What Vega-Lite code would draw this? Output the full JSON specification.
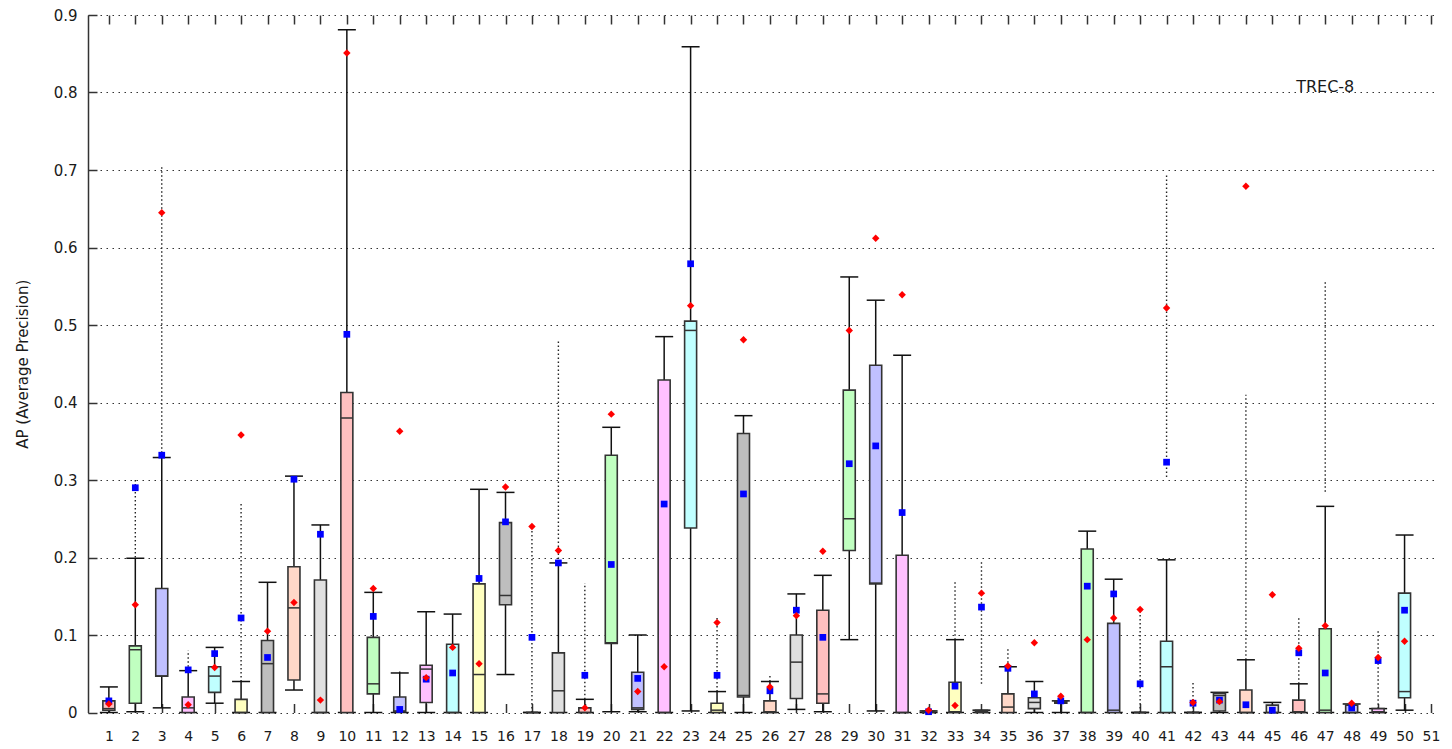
{
  "$schema": "https://vega.github.io/schema/vega-lite/v6.json",
  "width": 1348,
  "height": 697.5,
  "autosize": {"type": "none"},
  "padding": {"left": 88, "top": 15, "right": 16, "bottom": 36.5},
  "background": "white",
  "config": {
    "view": {"stroke": null},
    "font": "DejaVu Sans",
    "axis": {"labelFont": "DejaVu Sans", "labelFontSize": 14, "labelColor": "#1a1a1a", "titleFont": "DejaVu Sans", "titleFontSize": 15, "titleFontWeight": "normal", "titleColor": "#1a1a1a"}
  },
  "datasets": {
    "boxes": [
      {"id": 1, "g": "A", "q1": 0.003, "med": 0.005, "q3": 0.015, "lo": 0, "hi": 0.033, "red": 0.011, "blue": 0.015},
      {"id": 2, "g": "B", "q1": 0.012, "med": 0.081, "q3": 0.086, "lo": 0.001, "hi": 0.199, "red": 0.139, "blue": 0.29},
      {"id": 3, "g": "C", "q1": 0.047, "med": 0.047, "q3": 0.16, "lo": 0.006, "hi": 0.329, "red": 0.645, "blue": 0.332},
      {"id": 4, "g": "D", "q1": 0, "med": 0.006, "q3": 0.02, "lo": 0, "hi": 0.054, "red": 0.01, "blue": 0.055},
      {"id": 5, "g": "E", "q1": 0.026, "med": 0.047, "q3": 0.059, "lo": 0.012, "hi": 0.084, "red": 0.058, "blue": 0.076},
      {"id": 6, "g": "F", "q1": 0, "med": 0, "q3": 0.017, "lo": 0, "hi": 0.04, "red": 0.358, "blue": 0.122},
      {"id": 7, "g": "G", "q1": 0, "med": 0.063, "q3": 0.093, "lo": 0, "hi": 0.168, "red": 0.105, "blue": 0.071},
      {"id": 8, "g": "H", "q1": 0.042, "med": 0.135, "q3": 0.188, "lo": 0.029, "hi": 0.305, "red": 0.142, "blue": 0.301},
      {"id": 9, "g": "I", "q1": 0, "med": 0, "q3": 0.171, "lo": 0, "hi": 0.242, "red": 0.016, "blue": 0.23},
      {"id": 10, "g": "A", "q1": 0, "med": 0.38, "q3": 0.413, "lo": 0, "hi": 0.881, "red": 0.851, "blue": 0.488},
      {"id": 11, "g": "B", "q1": 0.024, "med": 0.037, "q3": 0.097, "lo": 0, "hi": 0.155, "red": 0.16, "blue": 0.124},
      {"id": 12, "g": "C", "q1": 0.001, "med": 0.002, "q3": 0.02, "lo": 0, "hi": 0.051, "red": 0.363, "blue": 0.004},
      {"id": 13, "g": "D", "q1": 0.013, "med": 0.056, "q3": 0.061, "lo": 0, "hi": 0.13, "red": 0.045, "blue": 0.043},
      {"id": 14, "g": "E", "q1": 0, "med": 0, "q3": 0.088, "lo": 0, "hi": 0.127, "red": 0.084, "blue": 0.051},
      {"id": 15, "g": "F", "q1": 0, "med": 0.049, "q3": 0.166, "lo": 0, "hi": 0.288, "red": 0.063, "blue": 0.173},
      {"id": 16, "g": "G", "q1": 0.139, "med": 0.151, "q3": 0.245, "lo": 0.049, "hi": 0.284, "red": 0.291, "blue": 0.246},
      {"id": 17, "g": "H", "q1": 0, "med": 0, "q3": 0, "lo": 0, "hi": 0, "red": 0.24, "blue": 0.097},
      {"id": 18, "g": "I", "q1": 0, "med": 0.028, "q3": 0.077, "lo": 0, "hi": 0.193, "red": 0.209, "blue": 0.193},
      {"id": 19, "g": "A", "q1": 0, "med": 0, "q3": 0.006, "lo": 0, "hi": 0.017, "red": 0.006, "blue": 0.048},
      {"id": 20, "g": "B", "q1": 0.089, "med": 0.09, "q3": 0.332, "lo": 0.001, "hi": 0.368, "red": 0.385, "blue": 0.191},
      {"id": 21, "g": "C", "q1": 0.004, "med": 0.006, "q3": 0.052, "lo": 0.001, "hi": 0.1, "red": 0.027, "blue": 0.044},
      {"id": 22, "g": "D", "q1": 0, "med": 0, "q3": 0.429, "lo": 0, "hi": 0.485, "red": 0.059, "blue": 0.269},
      {"id": 23, "g": "E", "q1": 0.238, "med": 0.493, "q3": 0.505, "lo": 0.002, "hi": 0.859, "red": 0.525, "blue": 0.579},
      {"id": 24, "g": "F", "q1": 0, "med": 0.003, "q3": 0.012, "lo": 0, "hi": 0.027, "red": 0.116, "blue": 0.048},
      {"id": 25, "g": "G", "q1": 0.02, "med": 0.022, "q3": 0.36, "lo": 0, "hi": 0.383, "red": 0.481, "blue": 0.282},
      {"id": 26, "g": "H", "q1": 0, "med": 0.001, "q3": 0.015, "lo": 0, "hi": 0.04, "red": 0.033, "blue": 0.028},
      {"id": 27, "g": "I", "q1": 0.018, "med": 0.065, "q3": 0.1, "lo": 0.004, "hi": 0.153, "red": 0.125, "blue": 0.132},
      {"id": 28, "g": "A", "q1": 0.012, "med": 0.024, "q3": 0.132, "lo": 0.001, "hi": 0.177, "red": 0.208, "blue": 0.097},
      {"id": 29, "g": "B", "q1": 0.209, "med": 0.25, "q3": 0.416, "lo": 0.094, "hi": 0.562, "red": 0.493, "blue": 0.321},
      {"id": 30, "g": "C", "q1": 0.166, "med": 0.167, "q3": 0.448, "lo": 0.002, "hi": 0.532, "red": 0.612, "blue": 0.344},
      {"id": 31, "g": "D", "q1": 0, "med": 0, "q3": 0.203, "lo": 0, "hi": 0.461, "red": 0.539, "blue": 0.258},
      {"id": 32, "g": "E", "q1": 0, "med": 0.001, "q3": 0.002, "lo": 0, "hi": 0.002, "red": 0.003, "blue": 0.001},
      {"id": 33, "g": "F", "q1": 0, "med": 0.001, "q3": 0.039, "lo": 0, "hi": 0.094, "red": 0.009, "blue": 0.034},
      {"id": 34, "g": "G", "q1": 0, "med": 0.001, "q3": 0.003, "lo": 0, "hi": 0.003, "red": 0.154, "blue": 0.136},
      {"id": 35, "g": "H", "q1": 0, "med": 0.007, "q3": 0.024, "lo": 0, "hi": 0.059, "red": 0.06, "blue": 0.057},
      {"id": 36, "g": "I", "q1": 0.005, "med": 0.013, "q3": 0.019, "lo": 0, "hi": 0.04, "red": 0.09, "blue": 0.024},
      {"id": 37, "g": "A", "q1": 0.012, "med": 0.013, "q3": 0.0146, "lo": 0, "hi": 0.015, "red": 0.021, "blue": 0.015},
      {"id": 38, "g": "B", "q1": 0, "med": 0, "q3": 0.211, "lo": 0, "hi": 0.234, "red": 0.094, "blue": 0.163},
      {"id": 39, "g": "C", "q1": 0, "med": 0.003, "q3": 0.115, "lo": 0, "hi": 0.172, "red": 0.122, "blue": 0.153},
      {"id": 40, "g": "D", "q1": 0, "med": 0, "q3": 0, "lo": 0, "hi": 0, "red": 0.133, "blue": 0.037},
      {"id": 41, "g": "E", "q1": 0, "med": 0.059, "q3": 0.092, "lo": 0, "hi": 0.197, "red": 0.522, "blue": 0.323},
      {"id": 42, "g": "F", "q1": 0, "med": 0, "q3": 0, "lo": 0, "hi": 0, "red": 0.013, "blue": 0.012},
      {"id": 43, "g": "G", "q1": 0.002, "med": 0.022, "q3": 0.025, "lo": 0, "hi": 0.026, "red": 0.014, "blue": 0.016},
      {"id": 44, "g": "H", "q1": 0, "med": 0, "q3": 0.029, "lo": 0, "hi": 0.068, "red": 0.679, "blue": 0.01},
      {"id": 45, "g": "I", "q1": 0, "med": 0, "q3": 0.0095, "lo": 0, "hi": 0.013, "red": 0.152, "blue": 0.003},
      {"id": 46, "g": "A", "q1": 0, "med": 0.001, "q3": 0.016, "lo": 0, "hi": 0.037, "red": 0.083, "blue": 0.077},
      {"id": 47, "g": "B", "q1": 0, "med": 0.003, "q3": 0.108, "lo": 0, "hi": 0.266, "red": 0.112, "blue": 0.051},
      {"id": 48, "g": "C", "q1": 0, "med": 0, "q3": 0.0095, "lo": 0, "hi": 0.011, "red": 0.012, "blue": 0.006},
      {"id": 49, "g": "D", "q1": 0, "med": 0.001, "q3": 0.005, "lo": 0, "hi": 0.005, "red": 0.071, "blue": 0.067},
      {"id": 50, "g": "E", "q1": 0.019, "med": 0.027, "q3": 0.154, "lo": 0.003, "hi": 0.229, "red": 0.092, "blue": 0.132}
    ],
    "outliers": [
      {"id": 2, "lo": 0.2, "hi": 0.3},
      {"id": 3, "lo": 0.33, "hi": 0.705},
      {"id": 4, "lo": 0.054, "hi": 0.08},
      {"id": 6, "lo": 0.04, "hi": 0.272},
      {"id": 12, "lo": 0.051, "hi": 0.056},
      {"id": 17, "lo": 0, "hi": 0.235},
      {"id": 18, "lo": 0.193, "hi": 0.48},
      {"id": 19, "lo": 0.017, "hi": 0.167},
      {"id": 24, "lo": 0.027, "hi": 0.124},
      {"id": 26, "lo": 0.04, "hi": 0.048},
      {"id": 33, "lo": 0.094, "hi": 0.17},
      {"id": 34, "lo": 0.037, "hi": 0.196},
      {"id": 35, "lo": 0.059, "hi": 0.084},
      {"id": 40, "lo": 0, "hi": 0.13},
      {"id": 41, "lo": 0.304, "hi": 0.694},
      {"id": 42, "lo": 0, "hi": 0.041},
      {"id": 44, "lo": 0.068, "hi": 0.41},
      {"id": 46, "lo": 0.037, "hi": 0.125},
      {"id": 47, "lo": 0.285, "hi": 0.556},
      {"id": 49, "lo": 0.005, "hi": 0.108}
    ],
    "labels": [
      {"x": 45.9, "y": 0.807, "text": "TREC-8"}
    ]
  },
  "resolve": {"axis": {"x": "independent", "y": "independent"}},
  "layer": [
    {
      "data": {"name": "outliers"},
      "mark": {"type": "rule", "strokeDash": [1.5, 2.5], "color": "#222222", "strokeWidth": 1.4, "opacity": 1},
      "encoding": {
        "x": {
          "field": "id", "type": "quantitative",
          "scale": {"domain": [0.4, 51], "nice": false, "zero": false},
          "axis": {"orient": "bottom", "values": [1,2,3,4,5,6,7,8,9,10,11,12,13,14,15,16,17,18,19,20,21,22,23,24,25,26,27,28,29,30,31,32,33,34,35,36,37,38,39,40,41,42,43,44,45,46,47,48,49,50,51], "format": "d", "domain": false, "grid": false, "ticks": true, "tickSize": -9, "tickColor": "#333333", "tickWidth": 1.5, "labelPadding": 26, "title": null, "labelFlush": false, "labelOverlap": false}
        },
        "y": {
          "field": "lo", "type": "quantitative",
          "scale": {"domain": [0, 0.9], "nice": false, "zero": false},
          "axis": {"orient": "left", "values": [0, 0.1, 0.2, 0.3, 0.4, 0.5, 0.6, 0.7, 0.8, 0.9], "format": ".1~f", "grid": true, "gridDash": [1.5, 4.5], "gridColor": "#333333", "gridWidth": 1.2, "domain": true, "domainColor": "#333333", "domainWidth": 1.5, "ticks": true, "tickSize": -9, "tickColor": "#333333", "tickWidth": 1.5, "labelPadding": 20, "labelFontSize": 15, "labelFlush": false, "title": "AP (Average Precision)", "titleX": -66, "titleY": 348.75, "titleAngle": 270, "titleAlign": "center", "titleBaseline": "middle"}
        },
        "y2": {"field": "hi"}
      }
    },
    {
      "data": {"name": "boxes"},
      "mark": {"type": "rule", "color": "#111111", "strokeWidth": 1.5, "opacity": 1},
      "encoding": {
        "x": {"field": "id", "type": "quantitative", "axis": null},
        "y": {"field": "lo", "type": "quantitative", "axis": null},
        "y2": {"field": "hi"}
      }
    },
    {
      "data": {"name": "boxes"},
      "mark": {"type": "tick", "orient": "horizontal", "size": 18, "thickness": 1.5, "color": "#111111", "opacity": 1},
      "encoding": {
        "x": {"field": "id", "type": "quantitative",
          "axis": {"orient": "top", "values": [1,2,3,4,5,6,7,8,9,10,11,12,13,14,15,16,17,18,19,20,21,22,23,24,25,26,27,28,29,30,31,32,33,34,35,36,37,38,39,40,41,42,43,44,45,46,47,48,49,50,51], "labels": false, "domain": false, "grid": false, "ticks": true, "tickSize": -9, "tickColor": "#333333", "tickWidth": 1.5, "title": null}},
        "y": {"field": "hi", "type": "quantitative", "axis": null}
      }
    },
    {
      "data": {"name": "boxes"},
      "mark": {"type": "tick", "orient": "horizontal", "size": 18, "thickness": 1.5, "color": "#111111", "opacity": 1},
      "encoding": {
        "x": {"field": "id", "type": "quantitative", "axis": null},
        "y": {"field": "lo", "type": "quantitative", "axis": null}
      }
    },
    {
      "data": {"name": "boxes"},
      "mark": {"type": "bar", "size": 12, "stroke": "#333333", "strokeWidth": 1.6, "opacity": 1},
      "encoding": {
        "x": {"field": "id", "type": "quantitative", "axis": null},
        "y": {"field": "q1", "type": "quantitative", "axis": null},
        "y2": {"field": "q3"},
        "fill": {"field": "g", "type": "nominal", "legend": null,
          "scale": {"domain": ["A","B","C","D","E","F","G","H","I"], "range": ["#ffc0c0","#c0ffc0","#c0c0ff","#ffc0ff","#c0ffff","#ffffc0","#bebebe","#ffd8c8","#e0e0e0"]}}
      }
    },
    {
      "data": {"name": "boxes"},
      "mark": {"type": "tick", "orient": "horizontal", "size": 12, "thickness": 1.5, "color": "#333333", "opacity": 1},
      "encoding": {
        "x": {"field": "id", "type": "quantitative", "axis": null},
        "y": {"field": "med", "type": "quantitative", "axis": null}
      }
    },
    {
      "data": {"name": "boxes"},
      "mark": {"type": "point", "shape": "square", "filled": true, "size": 45, "color": "#0000ff", "opacity": 1},
      "encoding": {
        "x": {"field": "id", "type": "quantitative", "axis": null},
        "y": {"field": "blue", "type": "quantitative", "axis": null}
      }
    },
    {
      "data": {"name": "boxes"},
      "mark": {"type": "point", "shape": "diamond", "filled": true, "size": 55, "color": "#ff0000", "opacity": 1},
      "encoding": {
        "x": {"field": "id", "type": "quantitative", "axis": null},
        "y": {"field": "red", "type": "quantitative", "axis": null}
      }
    },
    {
      "data": {"name": "labels"},
      "mark": {"type": "text", "align": "left", "baseline": "middle", "font": "DejaVu Sans", "fontSize": 16, "color": "#1a1a1a"},
      "encoding": {
        "x": {"field": "x", "type": "quantitative", "axis": null},
        "y": {"field": "y", "type": "quantitative", "axis": null},
        "text": {"field": "text"}
      }
    }
  ]
}
